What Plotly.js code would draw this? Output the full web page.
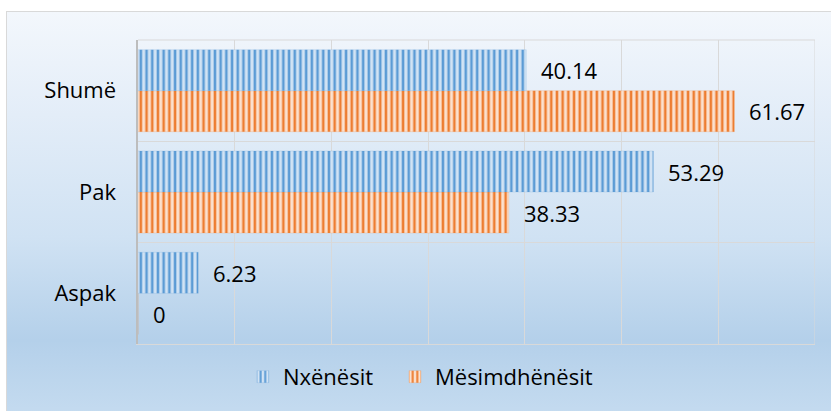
<!DOCTYPE html>
<html>
<head>
<meta charset="utf-8">
<script src="https://cdn.plot.ly/plotly-3.0.1.min.js"></script>
<style>
  html, body { margin: 0; padding: 0; background: #ffffff; width: 831px; height: 411px; overflow: hidden; }
  #bg { position: absolute; left: 6px; top: 11px; width: 840px; height: 410px;
        border-left: 1px solid #d9d9d9; border-top: 1px solid #d9d9d9;
        background: linear-gradient(to bottom, #f3f7fc 0%, #e3edf8 25%, #d0e2f3 55%, #b4d0ea 80%, #c6dcf0 100%); }
  #chart { position: absolute; left: 0; top: 0; width: 831px; height: 411px; }
</style>
</head>
<body>
<div id="bg"></div>
<div id="chart"></div>
<script>
const categories = ["Aspak", "Pak", "Shumë"];
const seriesNames = ["Nxënësit", "Mësimdhënësit"];
const nxenesit = [6.23, 53.29, 40.14];
const mesimdhenesit = [0, 38.33, 61.67];
const xTicks = [0, 10, 20, 30, 40, 50, 60, 70];
const xMax = 70;

const FONT = "Open Sans, Lato, sans-serif";
const FS = 22;

const traceOrange = {
  type: "bar", orientation: "h", name: seriesNames[1],
  y: categories, x: mesimdhenesit, legend: "legend2",
  marker: {
    color: "#fbe1cf",
    line: { color: "rgba(237,125,49,0.35)", width: 0.5 },
    pattern: { shape: "|", fgcolor: "#ed7d31", bgcolor: "#fbe1cf", size: 5.7, solidity: 0.45, fillmode: "replace" }
  },
  hoverinfo: "none"
};
const traceBlue = {
  type: "bar", orientation: "h", name: seriesNames[0],
  y: categories, x: nxenesit, legend: "legend",
  marker: {
    color: "#d2e3f4",
    line: { color: "rgba(91,155,213,0.35)", width: 0.5 },
    pattern: { shape: "|", fgcolor: "#5b9bd5", bgcolor: "#d2e3f4", size: 5.7, solidity: 0.45, fillmode: "replace" }
  },
  hoverinfo: "none"
};

const annotations = [];
categories.forEach((c, i) => {
  annotations.push({ x: nxenesit[i], y: c, xref: "x", yref: "y", text: String(nxenesit[i]),
    showarrow: false, xanchor: "left", yanchor: "middle", xshift: 13, yshift: 20.5,
    font: { family: FONT, size: FS, color: "#000000" } });
  annotations.push({ x: mesimdhenesit[i], y: c, xref: "x", yref: "y", text: String(mesimdhenesit[i]),
    showarrow: false, xanchor: "left", yanchor: "middle", xshift: 13, yshift: -20.5,
    font: { family: FONT, size: FS, color: "#000000" } });
});

const legendBase = {
  orientation: "h", xanchor: "left", y: -0.108, yanchor: "middle",
  bgcolor: "rgba(0,0,0,0)", font: { family: FONT, size: FS, color: "#000000" },
  itemclick: false, itemdoubleclick: false
};

const layout = {
  width: 831, height: 411,
  margin: { l: 138, r: 16, t: 40, b: 67 },
  paper_bgcolor: "rgba(0,0,0,0)",
  plot_bgcolor: "rgba(0,0,0,0)",
  barmode: "group", bargap: 0.19, bargroupgap: 0,
  font: { family: FONT, size: FS, color: "#000000" },
  xaxis: {
    range: [0, xMax], tickvals: xTicks, showticklabels: false,
    showgrid: true, gridcolor: "#d9d9d9", gridwidth: 1,
    zeroline: false, showline: true, linecolor: "#d9d9d9", linewidth: 1, mirror: false,
    fixedrange: true
  },
  yaxis: {
    type: "category", categoryorder: "array", categoryarray: categories,
    tickson: "boundaries", ticks: "", showgrid: true, gridcolor: "#d9d9d9", gridwidth: 1,
    showline: true, linecolor: "#bdbdbd", linewidth: 2.5,
    ticklabelstandoff: 15,
    tickfont: { family: FONT, size: FS, color: "#000000" },
    zeroline: false, fixedrange: true
  },
  shapes: [
    { type: "line", xref: "x", yref: "paper", x0: xMax, x1: xMax, y0: 0, y1: 1,
      line: { color: "#d9d9d9", width: 1 }, layer: "below" },
    { type: "line", xref: "paper", yref: "paper", x0: 0, x1: 1, y0: 1, y1: 1,
      line: { color: "#d9d9d9", width: 1 }, layer: "below" }
  ],
  showlegend: true,
  legend: Object.assign({}, legendBase, { x: 0.155 }),
  legend2: Object.assign({}, legendBase, { x: 0.3796 }),
  annotations: annotations
};

Plotly.newPlot("chart", [traceOrange, traceBlue], layout, { displayModeBar: false, staticPlot: true });
</script>
</body>
</html>
